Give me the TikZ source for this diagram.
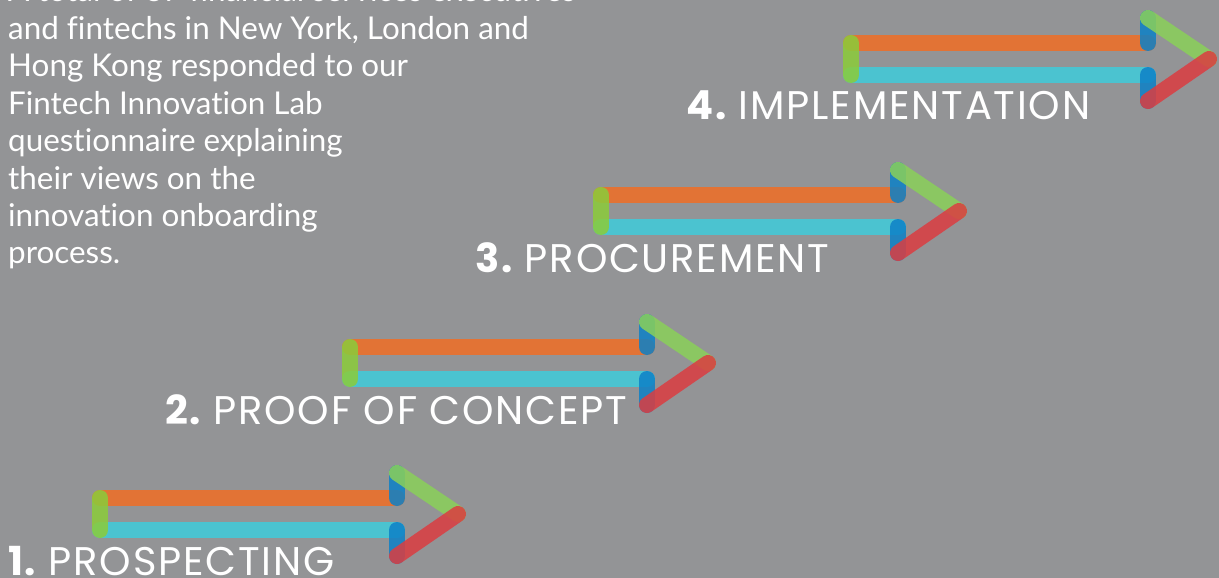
\documentclass[tikz,border=0pt]{standalone}
\usepackage{fontspec}
\setmainfont{Lato}[Ligatures=NoCommon]
\newfontfamily\labelfont{Poppins}[LetterSpace=4.5]

\definecolor{bggray}{HTML}{939496}
\definecolor{barorange}{RGB}{241,110,37}
\definecolor{barcyan}{RGB}{63,204,219}
\definecolor{bargreen}{RGB}{139,204,58}
\definecolor{barblue}{RGB}{13,129,199}
\definecolor{headgreen}{RGB}{138,208,89}
\definecolor{headred}{RGB}{219,61,65}

\tikzset{
    band/.style={line width=16pt, line cap=round, opacity=.85},
    steplabel/.style={anchor=base west, inner sep=0pt, text=white,
        font=\labelfont\fontsize{40}{40}\selectfont},
    intro/.style={anchor=base west, inner sep=0pt, text=white,
        font=\fontsize{31.4}{36}\selectfont}
}

\begin{document}
\begin{tikzpicture}[x=1pt, y=-1pt]
    \fill[bggray] (0,0) rectangle (1219,578);
    \useasboundingbox (0,0) rectangle (1219,578);

    % intro text, one node per line
    \foreach \t [count=\k from 0] in {A total of 37 financial services executives,
        {and fintechs in New York, London and}, Hong Kong responded to our,
        Fintech Innovation Lab, questionnaire explaining, their views on the,
        innovation onboarding, process.}
        \node[intro] (line\k) at (8, 2+37.4*\k) {\t};

    % the four steps
    \foreach \n/\x/\y/\lx/\t in {1/100/498/8/PROSPECTING,
                                 2/350/347/165/PROOF OF CONCEPT,
                                 3/601/195/475/PROCUREMENT,
                                 4/851/43/686/IMPLEMENTATION}{
        \coordinate (tt\n) at (\x,\y);
        \coordinate (tb\n) at (\x,\y+32);
        \coordinate (ht\n) at (\x+297,\y);
        \coordinate (hb\n) at (\x+297,\y+32);
        \coordinate (hu\n) at (\x+297,\y-25);
        \coordinate (hd\n) at (\x+297,\y+58);
        \coordinate (tip\n) at (\x+358,\y+16);
        \draw[band, barorange] (tt\n) -- (ht\n);
        \draw[band, barcyan] (tb\n) -- (hb\n);
        \draw[band, bargreen] (tt\n) -- (tb\n);
        \draw[band, barblue] (hu\n) -- (ht\n);
        \draw[band, barblue] (hb\n) -- (hd\n);
        \draw[band, headgreen] (hu\n) -- (tip\n);
        \draw[band, headred] (tip\n) -- (hd\n);
        \node[steplabel] (step\n) at (\lx,\y+77) {{\bfseries\n.}\ \t};
    }
\end{tikzpicture}
\end{document}
